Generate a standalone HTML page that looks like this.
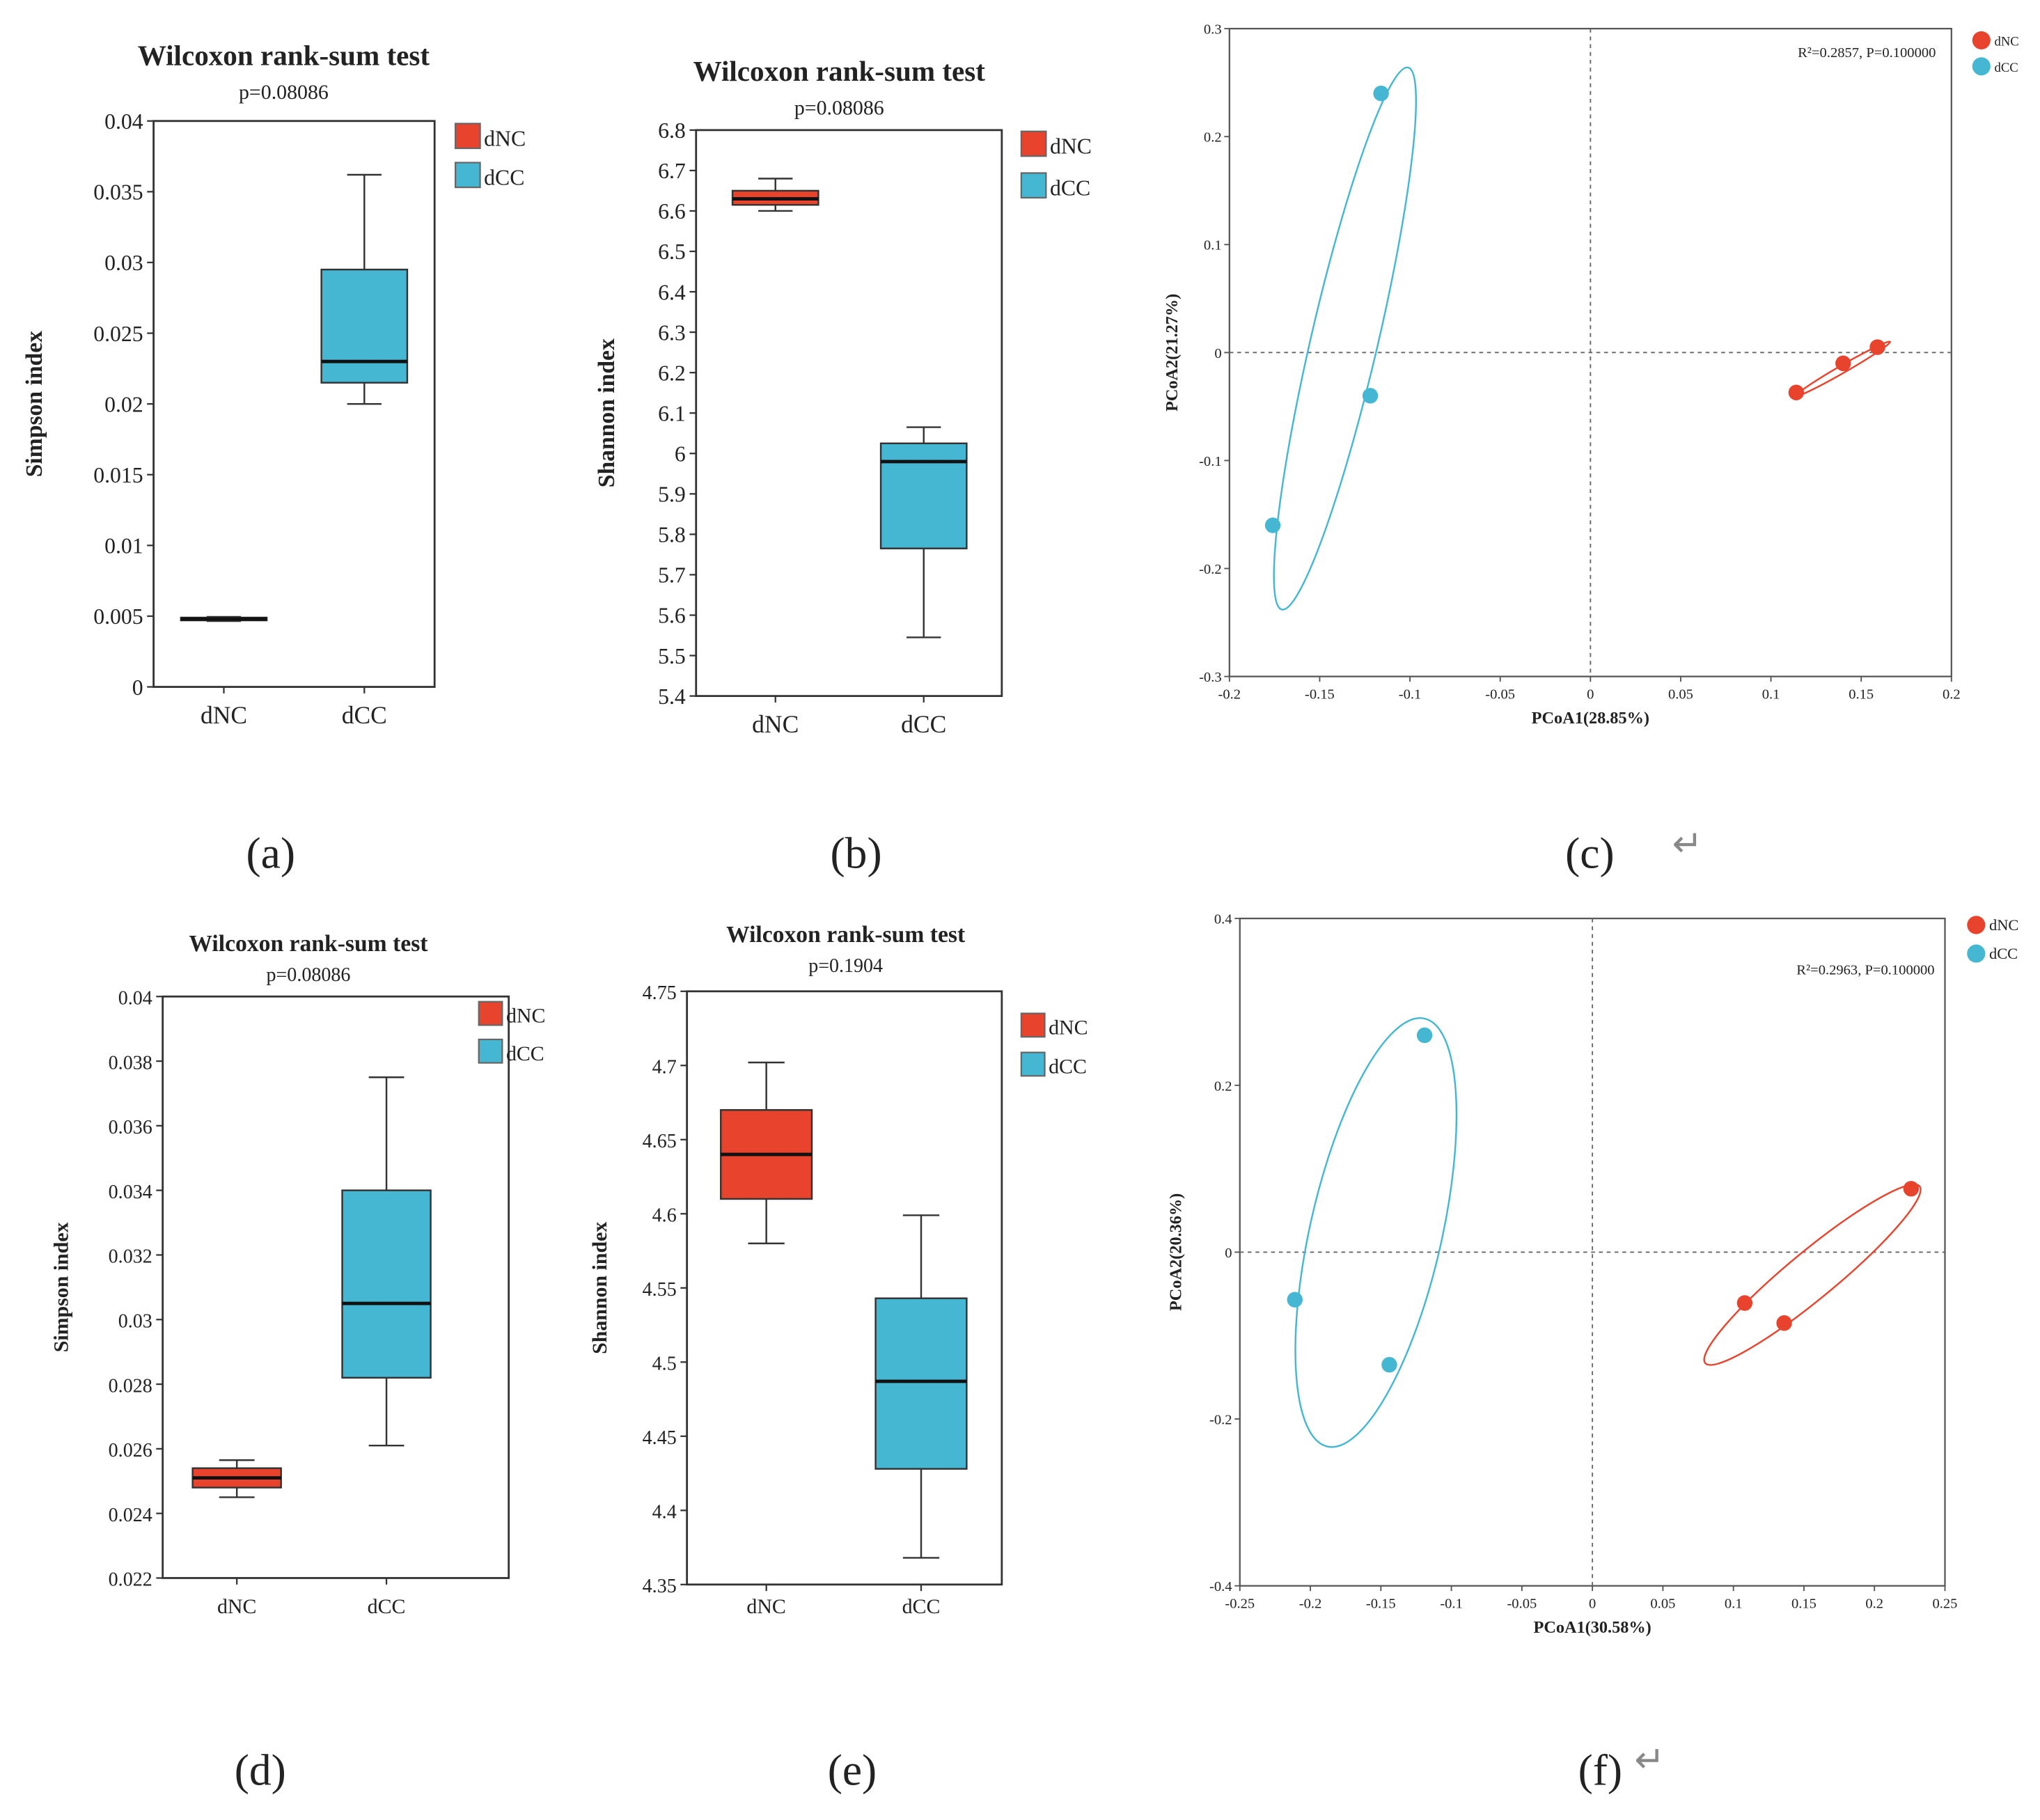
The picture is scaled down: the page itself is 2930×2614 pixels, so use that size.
<!DOCTYPE html>
<html><head><meta charset="utf-8">
<style>
html,body{margin:0;padding:0;background:#fff;}
svg{display:block;}
text{font-family:"Liberation Serif",serif;fill:#222;}
</style></head>
<body>
<svg id="fig" xmlns="http://www.w3.org/2000/svg" width="2930" height="2614" viewBox="0 0 1568 1399"></svg>
<script>
// ---- Data: box plots ----
const boxGroups = ["dNC", "dCC"];
// panel a (Simpson) : [min, q1, median, q3, max]
const aNC = [0.00465, 0.00470, 0.00480, 0.00490, 0.00495];
const aCC = [0.0200, 0.0215, 0.0230, 0.0295, 0.0362];
const aTicks = [0, 0.005, 0.01, 0.015, 0.02, 0.025, 0.03, 0.035, 0.04];
// panel b (Shannon)
const bNC = [6.60, 6.615, 6.63, 6.65, 6.68];
const bCC = [5.545, 5.765, 5.98, 6.025, 6.065];
const bTicks = [5.4,5.5,5.6,5.7,5.8,5.9,6,6.1,6.2,6.3,6.4,6.5,6.6,6.7,6.8];
// panel d (Simpson)
const dNC = [0.0245, 0.0248, 0.0251, 0.0254, 0.02565];
const dCC = [0.0261, 0.0282, 0.0305, 0.0340, 0.0375];
const dTicks = [0.022,0.024,0.026,0.028,0.03,0.032,0.034,0.036,0.038,0.04];
// panel e (Shannon)
const eNC = [4.58, 4.61, 4.64, 4.67, 4.702];
const eCC = [4.368, 4.428, 4.487, 4.543, 4.599];
const eTicks = [4.35,4.4,4.45,4.5,4.55,4.6,4.65,4.7,4.75];

// ---- Data: PCoA ----
const cNCx = [0.114, 0.140, 0.159];
const cNCy = [-0.037, -0.010, 0.005];
const cCCx = [-0.116, -0.122, -0.176];
const cCCy = [0.240, -0.040, -0.160];
// ellipse: [centerX, centerY, majorEndX, majorEndY, minor/major ratio]
const cEllCC = [-0.136, 0.013, -0.101, 0.264, 0.12];
const cEllNC = [0.140, -0.015, 0.166, 0.010, 0.07];
const cXTicks = [-0.2,-0.15,-0.1,-0.05,0,0.05,0.1,0.15,0.2];
const cYTicks = [-0.3,-0.2,-0.1,0,0.1,0.2,0.3];

const fNCx = [0.226, 0.108, 0.136];
const fNCy = [0.076, -0.061, -0.085];
const fCCx = [-0.119, -0.211, -0.144];
const fCCy = [0.260, -0.057, -0.135];
const fEllCC = [-0.1535, 0.0235, -0.119, 0.280, 0.30];
const fEllNC = [0.156, -0.027, 0.232, 0.079, 0.17];
const fXTicks = [-0.25,-0.2,-0.15,-0.1,-0.05,0,0.05,0.1,0.15,0.2,0.25];
const fYTicks = [-0.4,-0.2,0,0.2,0.4];
const fYLabels = ["-0.4","-0.2","0","0.2","0.4"];

const RED = "#e8432d", BLUE = "#45b7d3";
const NS = "http://www.w3.org/2000/svg";
const svg = document.getElementById("fig");
function el(tag, attrs, parent, txt){
  const e = document.createElementNS(NS, tag);
  for (const k in attrs) e.setAttribute(k, attrs[k]);
  if (txt !== undefined) e.textContent = txt;
  (parent || svg).appendChild(e);
  return e;
}

function boxPanel(o){
  const g = el("g", {});
  
  
  const y = v => o.y1 - (v - o.ymin) / (o.ymax - o.ymin) * (o.y1 - o.y0);
  let t = el("text", {x:o.tx, y:o.ty, "text-anchor":"middle", "font-size":o.tfs, "font-weight":"bold"}, g, "Wilcoxon rank-sum test");
  
  
  t = el("text", {x:o.tx, y:o.py, "text-anchor":"middle", "font-size":o.pfs}, g, o.p);
  
  
  const frame = el("rect", {x:o.x0, y:o.y0, width:o.x1-o.x0, height:o.y1-o.y0, fill:"none", stroke:"#333", "stroke-width":1.5}, g);
  
  
  o.ticks.forEach(v => {
    el("line", {x1:o.x0-5, x2:o.x0, y1:y(v), y2:y(v), stroke:"#333", "stroke-width":1.2}, g);
    const tl = el("text", {x:o.x0-8, y:y(v)+6, "text-anchor":"end", "font-size":o.kfs}, g, String(v));
    
    
  });
  const yl = el("text", {x:0, y:0, transform:`translate(${o.ylx},${(o.y0+o.y1)/2}) rotate(-90)`, "text-anchor":"middle", "font-size":o.yfs, "font-weight":"bold"}, g, o.ylabel);
  
  
  const series = [o.nc, o.cc], cols = [RED, BLUE];
  series.forEach((s, i) => {
    const cx = o.cx[i], hw = o.hw;
    el("line", {x1:cx, x2:cx, y1:y(s[0]), y2:y(s[4]), stroke:"#333", "stroke-width":1.3}, g);
    el("line", {x1:cx-hw*0.4, x2:cx+hw*0.4, y1:y(s[0]), y2:y(s[0]), stroke:"#333", "stroke-width":1.3}, g);
    el("line", {x1:cx-hw*0.4, x2:cx+hw*0.4, y1:y(s[4]), y2:y(s[4]), stroke:"#333", "stroke-width":1.3}, g);
    const b = el("rect", {x:cx-hw, y:y(s[3]), width:2*hw, height:Math.max(1.5, y(s[1])-y(s[3])), fill:cols[i], stroke:"#333", "stroke-width":1.3}, g);
    
    
    el("line", {x1:cx-hw, x2:cx+hw, y1:y(s[2]), y2:y(s[2]), stroke:"#111", "stroke-width":2.6}, g);
    el("line", {x1:cx, x2:cx, y1:o.y1, y2:o.y1+5, stroke:"#333", "stroke-width":1.2}, g);
    const xl = el("text", {x:cx, y:o.xly, "text-anchor":"middle", "font-size":o.xfs}, g, boxGroups[i]);
    
    
    const lg = el("rect", {x:o.lx, y:o.ly + i*o.lgap, width:o.ls, height:o.ls, fill:cols[i], stroke:"#666", "stroke-width":1.2}, g);
    
    
    const lt = el("text", {x:o.lx+o.ls+3, y:o.ly + i*o.lgap + o.ls-2, "font-size":o.lfs}, g, boxGroups[i]);
    
    
  });
}

boxPanel({name:"panel-a", x0:118, x1:334, y0:93, y1:528, ymin:0, ymax:0.04, ticks:aTicks, nc:aNC, cc:aCC,
  cx:[172, 280], hw:33, tx:218, ty:50, tfs:22, py:76, pfs:16, p:"p=0.08086", kfs:17, ylx:32, yfs:18, ylabel:"Simpson index",
  xly:556, xfs:19, lx:350, ly:95, lgap:30, ls:19, lfs:17});
boxPanel({name:"panel-b", x0:535, x1:770, y0:100, y1:535, ymin:5.4, ymax:6.8, ticks:bTicks, nc:bNC, cc:bCC,
  cx:[596, 710], hw:33, tx:645, ty:62, tfs:22, py:88, pfs:16, p:"p=0.08086", kfs:17, ylx:472, yfs:18, ylabel:"Shannon index",
  xly:563, xfs:19, lx:785, ly:101, lgap:32, ls:19, lfs:17});
boxPanel({name:"panel-d", x0:125, x1:391, y0:766, y1:1213, ymin:0.022, ymax:0.04, ticks:dTicks, nc:dNC, cc:dCC,
  cx:[182, 297], hw:34, tx:237, ty:731, tfs:18, py:754, pfs:15, p:"p=0.08086", kfs:15, ylx:52, yfs:16, ylabel:"Simpson index",
  xly:1240, xfs:16, lx:368, ly:770, lgap:29, ls:18, lfs:16});
boxPanel({name:"panel-e", x0:528, x1:770, y0:762, y1:1218, ymin:4.35, ymax:4.75, ticks:eTicks, nc:eNC, cc:eCC,
  cx:[589, 708], hw:35, tx:650, ty:724, tfs:18, py:747, pfs:15, p:"p=0.1904", kfs:15, ylx:466, yfs:16, ylabel:"Shannon index",
  xly:1240, xfs:16, lx:785, ly:779, lgap:30, ls:18, lfs:16});

function pcoaPanel(o){
  const g = el("g", {});
  
  
  const X = v => o.x0 + (v - o.xmin) / (o.xmax - o.xmin) * (o.x1 - o.x0);
  const Y = v => o.y1 - (v - o.ymin) / (o.ymax - o.ymin) * (o.y1 - o.y0);
  const frame = el("rect", {x:o.x0, y:o.y0, width:o.x1-o.x0, height:o.y1-o.y0, fill:"none", stroke:"#555", "stroke-width":1.2}, g);
  
  
  el("line", {x1:X(0), x2:X(0), y1:o.y0, y2:o.y1, stroke:"#666", "stroke-width":1, "stroke-dasharray":"3,3"}, g);
  el("line", {x1:o.x0, x2:o.x1, y1:Y(0), y2:Y(0), stroke:"#666", "stroke-width":1, "stroke-dasharray":"3,3"}, g);
  o.xt.forEach(v => {
    el("line", {x1:X(v), x2:X(v), y1:o.y1, y2:o.y1+4, stroke:"#555"}, g);
    const t = el("text", {x:X(v), y:o.y1+17, "text-anchor":"middle", "font-size":11}, g, String(v));
    
    
  });
  o.yt.forEach((v, i) => {
    el("line", {x1:o.x0-4, x2:o.x0, y1:Y(v), y2:Y(v), stroke:"#555"}, g);
    const t = el("text", {x:o.x0-6, y:Y(v)+4, "text-anchor":"end", "font-size":11}, g, o.ylab ? o.ylab[i] : String(v));
    
    
  });
  let t = el("text", {x:(o.x0+o.x1)/2, y:o.y1+36, "text-anchor":"middle", "font-size":13, "font-weight":"bold"}, g, o.xlabel);
  
  
  t = el("text", {x:0, y:0, transform:`translate(${o.ylx},${(o.y0+o.y1)/2}) rotate(-90)`, "text-anchor":"middle", "font-size":13, "font-weight":"bold"}, g, o.ylabel);
  
  
  t = el("text", {x:o.rx, y:o.ry, "text-anchor":"end", "font-size":11}, g, o.stat);
  
  
  [[o.ellNC, RED], [o.ellCC, BLUE]].forEach(([e, c], i) => {
    const cx = X(e[0]), cy = Y(e[1]), ex = X(e[2]), ey = Y(e[3]);
    const a = Math.hypot(ex-cx, ey-cy), ang = Math.atan2(ey-cy, ex-cx) * 180 / Math.PI;
    const ell = el("ellipse", {cx:cx, cy:cy, rx:a, ry:a*e[4], transform:`rotate(${ang} ${cx} ${cy})`, fill:"none", stroke:c, "stroke-width":1.3}, g);
    
    
  });
  [[o.ncx, o.ncy, RED, "dNC"], [o.ccx, o.ccy, BLUE, "dCC"]].forEach(([xs, ys, c, nm]) => {
    xs.forEach((v, k) => {
      const p = el("circle", {cx:X(v), cy:Y(ys[k]), r:6, fill:c}, g);
      
      
    });
  });
  [[RED, "dNC"], [BLUE, "dCC"]].forEach(([c, nm], i) => {
    const lc = el("circle", {cx:o.lx, cy:o.ly + i*o.lgap, r:7, fill:c}, g);
    
    
    const lt = el("text", {x:o.lx+10, y:o.ly + i*o.lgap + 4, "font-size":o.lfs}, g, nm);
    
    
  });
}

pcoaPanel({name:"panel-c", x0:945, x1:1500, y0:22, y1:520, xmin:-0.2, xmax:0.2, ymin:-0.3, ymax:0.3,
  xt:cXTicks, yt:cYTicks, ncx:cNCx, ncy:cNCy, ccx:cCCx, ccy:cCCy, ellNC:cEllNC, ellCC:cEllCC,
  xlabel:"PCoA1(28.85%)", ylabel:"PCoA2(21.27%)", ylx:905, stat:"R²=0.2857, P=0.100000", rx:1488, ry:44,
  lx:1523, ly:31, lgap:20, lfs:10});
pcoaPanel({name:"panel-f", x0:953, x1:1495, y0:706, y1:1219, xmin:-0.25, xmax:0.25, ymin:-0.4, ymax:0.4,
  xt:fXTicks, yt:fYTicks, ylab:fYLabels, ncx:fNCx, ncy:fNCy, ccx:fCCx, ccy:fCCy, ellNC:fEllNC, ellCC:fEllCC,
  xlabel:"PCoA1(30.58%)", ylabel:"PCoA2(20.36%)", ylx:908, stat:"R²=0.2963, P=0.100000", rx:1487, ry:749,
  lx:1519, ly:711, lgap:22, lfs:12});

const caps = [["(a)",208,667],["(b)",658,667],["(c)",1222,667],["(d)",200,1372],["(e)",655,1372],["(f)",1230,1372]];
caps.forEach(([s,x,y]) => {
  const t = el("text", {x:x, y:y, "text-anchor":"middle", "font-size":34}, svg, s);
  
  
});
[[1297,658],[1268,1362]].forEach(([x,y]) => {
  const t = el("text", {x:x, y:y, "text-anchor":"middle", "font-size":28, style:"fill:#888"}, svg, "↵");
  
  
});
</script>
</body></html>
